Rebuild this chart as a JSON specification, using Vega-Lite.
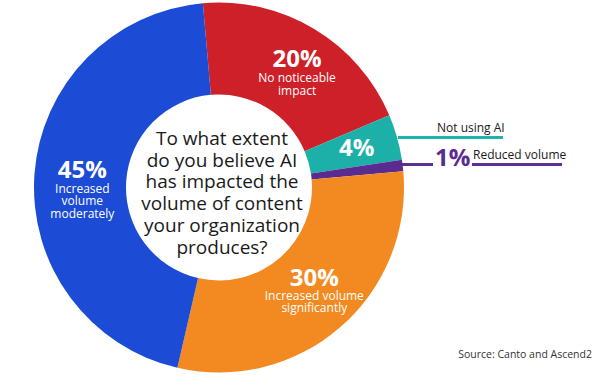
{
  "$schema": "https://vega.github.io/schema/vega-lite/v6.json",
  "width": 600,
  "height": 375,
  "autosize": {"type": "none"},
  "padding": 0,
  "background": "white",
  "config": {"view": {"stroke": null}, "text": {"font": "Open Sans"}},
  "data": {
    "values": [
      {"k": 1, "label": "No noticeable impact", "desc": "No noticeable\nimpact", "value": 0.20},
      {"k": 2, "label": "Not using AI", "desc": "", "value": 0.04},
      {"k": 3, "label": "Reduced volume", "desc": "", "value": 0.01},
      {"k": 4, "label": "Increased volume significantly", "desc": "Increased volume\nsignificantly", "value": 0.30},
      {"k": 5, "label": "Increased volume moderately", "desc": "Increased\nvolume\nmoderately", "value": 0.45}
    ]
  },
  "layer": [
    {
      "mark": {"type": "arc", "outerRadius": 185, "innerRadius": 93},
      "encoding": {
        "x": {"datum": 0, "type": "quantitative", "scale": {"domain": [-1.18378, 2.05946], "nice": false, "zero": false}, "axis": null},
        "y": {"datum": 0, "type": "quantitative", "scale": {"domain": [-1.01351, 1.01351], "nice": false, "zero": false}, "axis": null},
        "theta": {"field": "value", "type": "quantitative", "stack": true, "scale": {"domain": [0, 1], "range": [-0.0873, 6.1959]}},
        "order": {"field": "k", "type": "quantitative"},
        "color": {"field": "label", "type": "nominal", "legend": null,
          "scale": {"domain": ["No noticeable impact", "Not using AI", "Reduced volume", "Increased volume significantly", "Increased volume moderately"],
                    "range": ["#CE2028", "#1DB0A9", "#5B2C8F", "#F28A21", "#1C4BD6"]}}
      }
    },
    {
      "mark": {"type": "text", "radius": 140, "dx": 6, "fontSize": 24, "fontWeight": "bold", "color": "white", "align": "center", "baseline": "alphabetic"},
      "encoding": {
        "x": {"datum": 0, "type": "quantitative"}, "y": {"datum": 0, "type": "quantitative"},
        "theta": {"field": "value", "type": "quantitative", "stack": true},
        "order": {"field": "k", "type": "quantitative"},
        "text": {"condition": {"test": "datum.k === 1", "field": "value", "type": "quantitative", "format": ".0%"}, "value": ""}
      }
    },
    {
      "mark": {"type": "text", "radius": 143, "dy": 7, "fontSize": 24, "fontWeight": "bold", "color": "white", "align": "center", "baseline": "alphabetic"},
      "encoding": {
        "x": {"datum": 0, "type": "quantitative"}, "y": {"datum": 0, "type": "quantitative"},
        "theta": {"field": "value", "type": "quantitative", "stack": true},
        "order": {"field": "k", "type": "quantitative"},
        "text": {"condition": {"test": "datum.k === 2", "field": "value", "type": "quantitative", "format": ".0%"}, "value": ""}
      }
    },
    {
      "mark": {"type": "text", "radius": 130, "dx": 10, "fontSize": 24, "fontWeight": "bold", "color": "white", "align": "center", "baseline": "alphabetic"},
      "encoding": {
        "x": {"datum": 0, "type": "quantitative"}, "y": {"datum": 0, "type": "quantitative"},
        "theta": {"field": "value", "type": "quantitative", "stack": true},
        "order": {"field": "k", "type": "quantitative"},
        "text": {"condition": {"test": "datum.k === 4", "field": "value", "type": "quantitative", "format": ".0%"}, "value": ""}
      }
    },
    {
      "mark": {"type": "text", "radius": 137, "fontSize": 24, "fontWeight": "bold", "color": "white", "align": "center", "baseline": "alphabetic"},
      "encoding": {
        "x": {"datum": 0, "type": "quantitative"}, "y": {"datum": 0, "type": "quantitative"},
        "theta": {"field": "value", "type": "quantitative", "stack": true},
        "order": {"field": "k", "type": "quantitative"},
        "text": {"condition": {"test": "datum.k === 5", "field": "value", "type": "quantitative", "format": ".0%"}, "value": ""}
      }
    },
    {
      "mark": {"type": "text", "radius": 140, "dx": 6, "dy": 15, "fontSize": 12, "lineHeight": 12.5, "lineBreak": "\n", "color": "white", "align": "center", "baseline": "alphabetic"},
      "encoding": {
        "x": {"datum": 0, "type": "quantitative"}, "y": {"datum": 0, "type": "quantitative"},
        "theta": {"field": "value", "type": "quantitative", "stack": true},
        "order": {"field": "k", "type": "quantitative"},
        "text": {"condition": {"test": "datum.k === 1", "field": "desc"}, "value": ""}
      }
    },
    {
      "mark": {"type": "text", "radius": 130, "dx": 10, "dy": 14, "fontSize": 12, "lineHeight": 12.5, "lineBreak": "\n", "color": "white", "align": "center", "baseline": "alphabetic"},
      "encoding": {
        "x": {"datum": 0, "type": "quantitative"}, "y": {"datum": 0, "type": "quantitative"},
        "theta": {"field": "value", "type": "quantitative", "stack": true},
        "order": {"field": "k", "type": "quantitative"},
        "text": {"condition": {"test": "datum.k === 4", "field": "desc"}, "value": ""}
      }
    },
    {
      "mark": {"type": "text", "radius": 137, "dy": 15, "fontSize": 12, "lineHeight": 12.5, "lineBreak": "\n", "color": "white", "align": "center", "baseline": "alphabetic"},
      "encoding": {
        "x": {"datum": 0, "type": "quantitative"}, "y": {"datum": 0, "type": "quantitative"},
        "theta": {"field": "value", "type": "quantitative", "stack": true},
        "order": {"field": "k", "type": "quantitative"},
        "text": {"condition": {"test": "datum.k === 5", "field": "desc"}, "value": ""}
      }
    },
    {
      "data": {"values": [{"q": "To what extent|do you believe AI|has impacted the|volume of content|your organization|produces?"}]},
      "mark": {"type": "text", "dx": 3, "dy": -42.5, "fontSize": 19, "letterSpacing": -0.6, "lineHeight": 21.7, "lineBreak": "|", "color": "#1a1a1a", "align": "center", "baseline": "alphabetic"},
      "encoding": {
        "x": {"datum": 0, "type": "quantitative"}, "y": {"datum": 0, "type": "quantitative"},
        "text": {"field": "q"}
      }
    },
    {
      "mark": {"type": "rule", "color": "#1DB0A9", "strokeWidth": 2},
      "encoding": {
        "x": {"datum": 0.9676, "type": "quantitative"}, "x2": {"datum": 1.5351},
        "y": {"datum": 0.2703, "type": "quantitative"}
      }
    },
    {
      "mark": {"type": "rule", "color": "#5B2C8F", "strokeWidth": 2},
      "encoding": {
        "x": {"datum": 0.9892, "type": "quantitative"}, "x2": {"datum": 1.1568},
        "y": {"datum": 0.1243, "type": "quantitative"}
      }
    },
    {
      "mark": {"type": "rule", "color": "#5B2C8F", "strokeWidth": 2},
      "encoding": {
        "x": {"datum": 1.3676, "type": "quantitative"}, "x2": {"datum": 1.8541},
        "y": {"datum": 0.1243, "type": "quantitative"}
      }
    },
    {
      "transform": [{"filter": "datum.k === 2"}],
      "mark": {"type": "text", "fontSize": 12, "color": "#1a1a1a", "align": "left", "baseline": "alphabetic"},
      "encoding": {
        "x": {"datum": 1.1784, "type": "quantitative"}, "y": {"datum": 0.3, "type": "quantitative"},
        "text": {"field": "label"}
      }
    },
    {
      "transform": [{"filter": "datum.k === 3"}],
      "mark": {"type": "text", "fontSize": 24, "fontWeight": "bold", "color": "#5B2C8F", "align": "left", "baseline": "alphabetic"},
      "encoding": {
        "x": {"datum": 1.1676, "type": "quantitative"}, "y": {"datum": 0.1162, "type": "quantitative"},
        "text": {"field": "value", "type": "quantitative", "format": ".0%"}
      }
    },
    {
      "transform": [{"filter": "datum.k === 3"}],
      "mark": {"type": "text", "fontSize": 12, "color": "#1a1a1a", "align": "left", "baseline": "alphabetic"},
      "encoding": {
        "x": {"datum": 1.373, "type": "quantitative"}, "y": {"datum": 0.154, "type": "quantitative"},
        "text": {"field": "label"}
      }
    },
    {
      "data": {"values": [{"s": "Source: Canto and Ascend2"}]},
      "mark": {"type": "text", "fontSize": 10.5, "color": "#333333", "align": "right", "baseline": "alphabetic"},
      "encoding": {
        "x": {"datum": 2.0162, "type": "quantitative"}, "y": {"datum": -0.9216, "type": "quantitative"},
        "text": {"field": "s"}
      }
    }
  ]
}
